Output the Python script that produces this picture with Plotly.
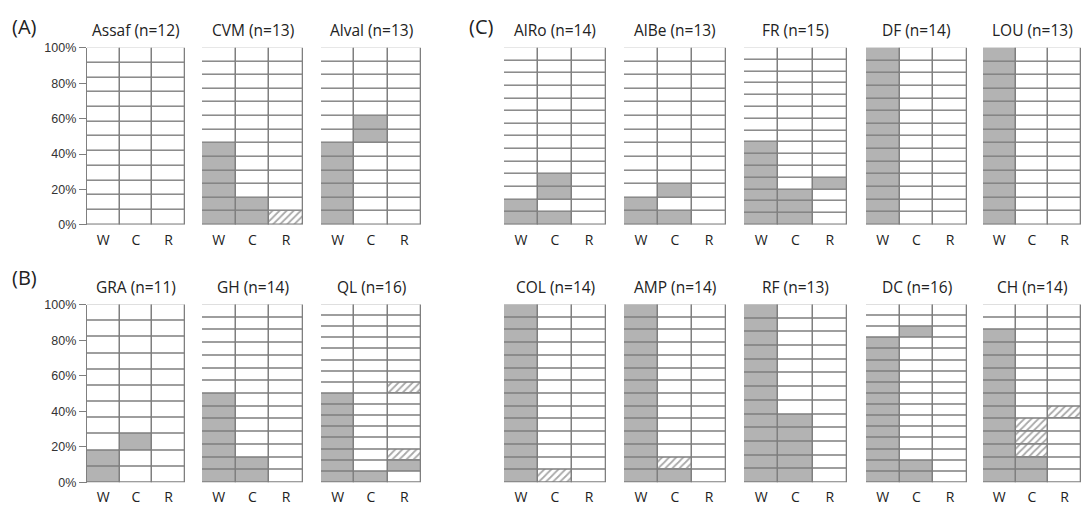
import plotly.graph_objects as go

# ---- data -------------------------------------------------------------
# cell codes, listed bottom -> top: 'g' = grey (filled), 'h' = hatched, '.' = empty
panel_names = ["Assaf", "CVM", "Alval", "GRA", "GH", "QL",
               "AlRo", "AlBe", "FR", "DF", "LOU",
               "COL", "AMP", "RF", "DC", "CH"]
n_values = [12, 13, 13, 11, 14, 16, 14, 13, 15, 14, 13, 14, 14, 13, 16, 14]
w_cells = ["." * 12, "g" * 6 + "." * 7, "g" * 6 + "." * 7,
           "gg" + "." * 9, "g" * 7 + "." * 7, "g" * 8 + "." * 8,
           "gg" + "." * 12, "gg" + "." * 11, "g" * 7 + "." * 8, "g" * 14, "g" * 13,
           "g" * 14, "g" * 14, "g" * 13, "g" * 13 + "...", "g" * 12 + ".."]
c_cells = ["." * 12, "gg" + "." * 11, "." * 6 + "gg" + "." * 5,
           "..g" + "." * 8, "gg" + "." * 12, "g" + "." * 15,
           "g.gg" + "." * 10, "g.g" + "." * 10, "ggg" + "." * 12, "." * 14, "." * 13,
           "h" + "." * 13, "gh" + "." * 12, "g" * 5 + "." * 8, "gg" + "." * 11 + "g..",
           "gghhh" + "." * 9]
r_cells = ["." * 12, "h" + "." * 12, "." * 13,
           "." * 11, "." * 14, ".gh....." + "h" + "." * 7,
           "." * 14, "." * 13, "...g" + "." * 11, "." * 14, "." * 13,
           "." * 14, "." * 14, "." * 13, "." * 16, ".....h" + "." * 8]
columns = ["W", "C", "R"]
y_ticks = [0, 20, 40, 60, 80, 100]
y_tick_text = ["0%", "20%", "40%", "60%", "80%", "100%"]
group_labels = ["(A)", "(B)", "(C)"]

# ---- layout geometry (pixels) ----------------------------------------
W_PX, H_PX = 1081, 508
x_px = [(87, 185), (202, 303), (321, 421),
        (87, 185), (202, 303), (321, 421),
        (504, 606), (624, 726), (744, 847), (866, 967), (983, 1081),
        (504, 606), (624, 726), (744, 847), (866, 967), (983, 1081)]
top_row = (42, 224)
bot_row = (306, 489)
rows_px = [top_row] * 3 + [bot_row] * 3 + [top_row] * 5 + [bot_row] * 5
left_axis_panels = {0, 3}

GRID = "#7f7f7f"
FILL = "#b3b3b3"
HATCH = "#a8a8a8"

fig = go.Figure()
layout_axes = {}
annotations = []

for k, name in enumerate(panel_names):
    n = n_values[k]
    xs, ys, bases, colors, shapes = [], [], [], [], []
    for col, cells in zip(columns, (w_cells[k], c_cells[k], r_cells[k])):
        for i, code in enumerate(cells):
            xs.append(col)
            ys.append(100.0 / n)
            bases.append(100.0 * i / n)
            if code == "g":
                colors.append(FILL)
                shapes.append("")
            elif code == "h":
                colors.append(HATCH)
                shapes.append("/")
            else:
                colors.append("white")
                shapes.append("")
    ax = "" if k == 0 else str(k + 1)
    fig.add_trace(go.Bar(
        x=xs, y=ys, base=bases, width=1,
        marker=dict(color=colors, line=dict(color=GRID, width=1.3),
                    pattern=dict(shape=shapes, bgcolor="white", size=5, solidity=0.35,
                                 fillmode="replace")),
        xaxis="x" + ax, yaxis="y" + ax, hoverinfo="skip", showlegend=False))

    x0, x1 = x_px[k]
    y0, y1 = rows_px[k]
    xd = [x0 / W_PX, x1 / W_PX]
    yd = [1 - y1 / H_PX, 1 - y0 / H_PX]
    layout_axes["xaxis" + ax] = dict(
        domain=xd, anchor="y" + ax, type="category", categoryorder="array",
        categoryarray=columns, range=[-0.5, 2.5], showgrid=False, zeroline=False,
        showline=False, ticks="outside", ticklen=2, tickcolor="rgba(0,0,0,0)",
        tickfont=dict(family="Open Sans", size=14, color="#222"), fixedrange=True)
    left = k in left_axis_panels
    layout_axes["yaxis" + ax] = dict(
        domain=yd, anchor="x" + ax, range=[0, 100], showgrid=False, zeroline=False,
        showline=left, linecolor=GRID, linewidth=1.3,
        ticks="outside" if left else "", ticklen=7, tickcolor=GRID, tickwidth=1.3,
        tickvals=y_ticks, ticktext=y_tick_text, showticklabels=left,
        tickfont=dict(family="Liberation Sans", size=12.5, color="#333"), fixedrange=True)
    annotations.append(dict(
        text=f"{name} (n={n})", x=(x0 + x1) / 2 / W_PX, y=1 - (y0 - 18) / H_PX,
        xref="paper", yref="paper", showarrow=False, xanchor="center", yanchor="middle",
        font=dict(family="Open Sans", size=15.5, color="#222")))

label_pos = [(24, 20), (24, 278), (481, 20)]
for lbl, (px, py) in zip(group_labels, label_pos):
    annotations.append(dict(
        text=lbl, x=px / W_PX, y=1 - py / H_PX, xref="paper", yref="paper",
        showarrow=False, xanchor="center", yanchor="middle",
        font=dict(family="Open Sans", size=20, color="#222")))

fig.update_layout(
    width=W_PX, height=H_PX, margin=dict(l=0, r=0, t=0, b=0),
    paper_bgcolor="white", plot_bgcolor="white", barmode="overlay", bargap=0,
    annotations=annotations, **layout_axes)

fig.write_html("out.html", config={"displayModeBar": False},
               post_script="document.body.style.margin='0px';"
                           "document.body.style.overflow='hidden';")
